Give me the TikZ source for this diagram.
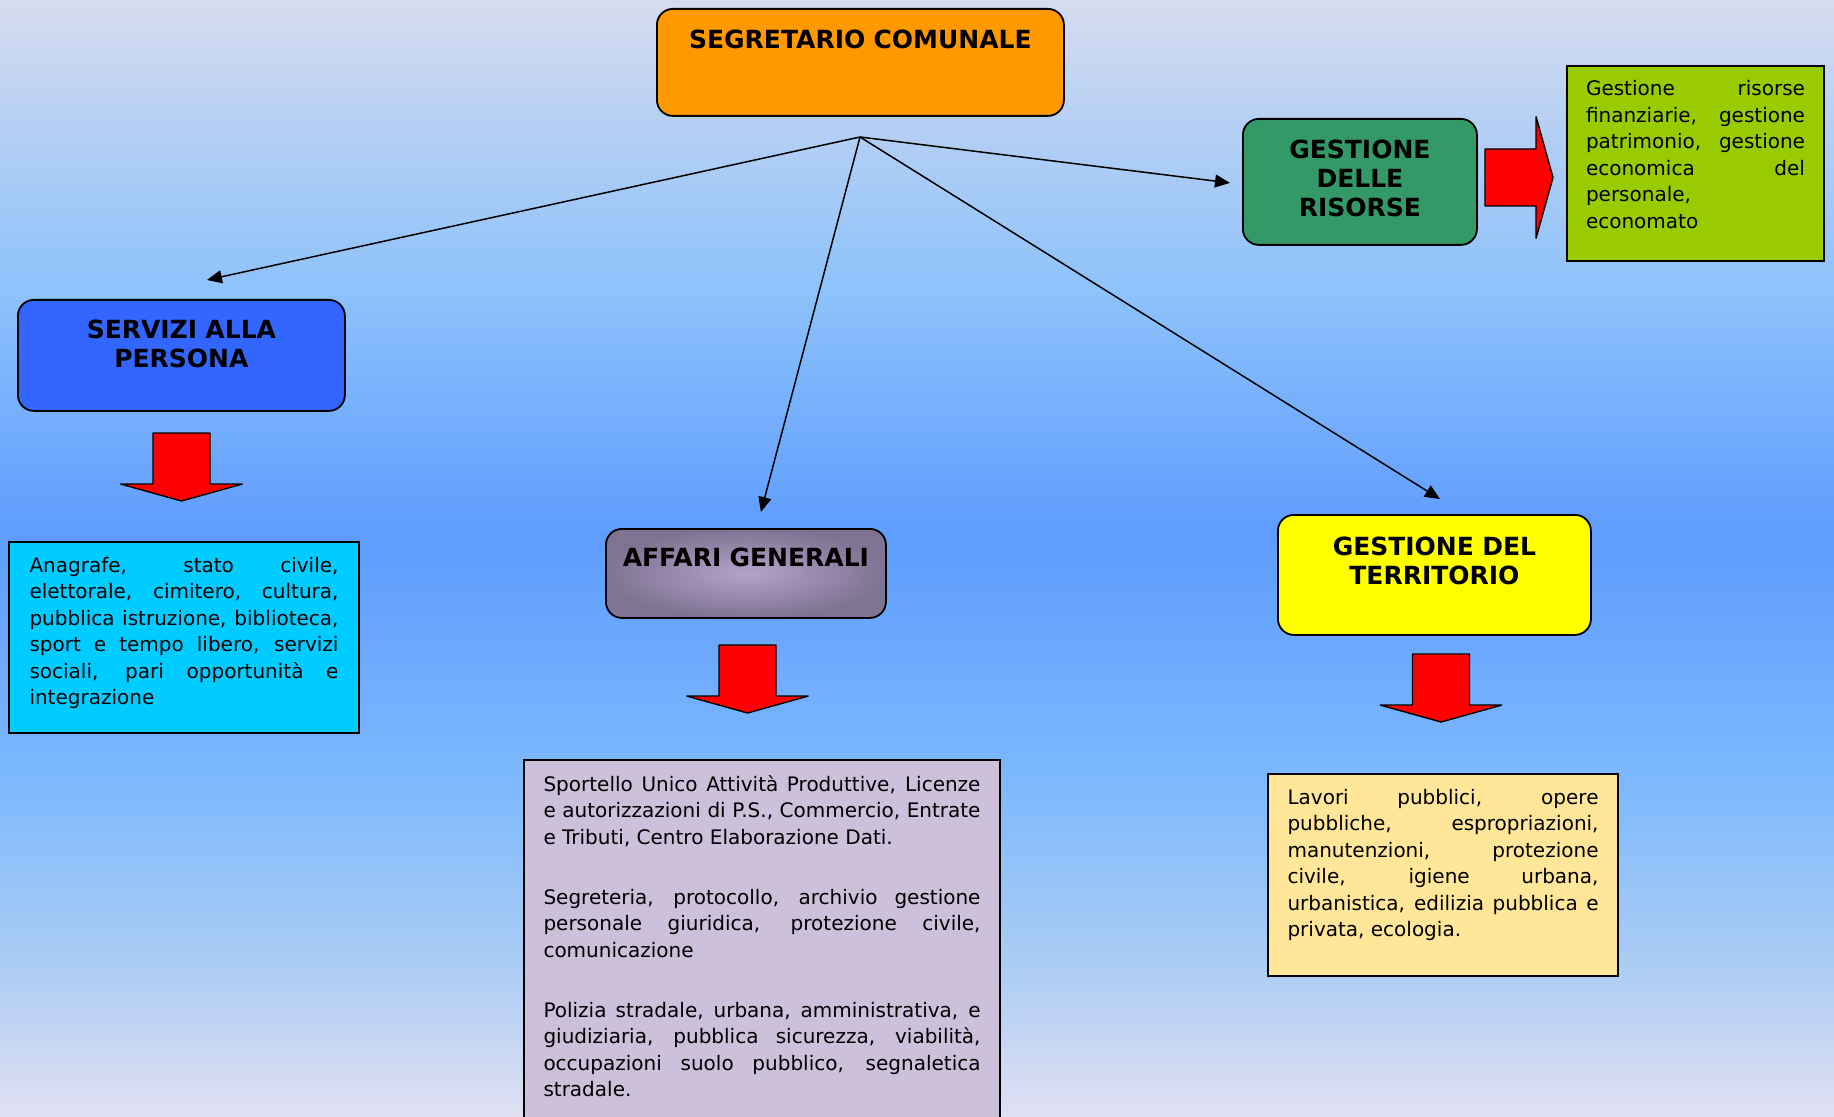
\documentclass[tikz,border=0pt]{standalone}
\usepackage{fontspec}
\setmainfont{DejaVu Sans}
\usetikzlibrary{arrows.meta}

\hyphenpenalty=10000
\exhyphenpenalty=10000

\definecolor{skytop}{HTML}{D6DCEF}
\definecolor{skyhigh}{HTML}{B3CFF4}
\definecolor{skymidup}{HTML}{8DC2FA}
\definecolor{skydeep}{HTML}{5E9CFE}
\definecolor{skymiddown}{HTML}{7DB9FC}
\definecolor{skylow}{HTML}{AACCF4}
\definecolor{skybottom}{HTML}{E0E0F3}
\definecolor{segorange}{HTML}{FF9900}
\definecolor{risgreen}{HTML}{339966}
\definecolor{limegreen}{HTML}{99CC00}
\definecolor{servblue}{HTML}{3366FF}
\definecolor{servcyan}{HTML}{00CCFF}
\definecolor{affdark}{HTML}{7F7393}
\definecolor{afflight}{HTML}{B3A3C9}
\definecolor{afflilac}{HTML}{CCC0DA}
\definecolor{terryellow}{HTML}{FFFF00}
\definecolor{terrsand}{HTML}{FFE699}

\pgfdeclareverticalshading{sky}{100bp}{color(0bp)=(skybottom); color(25bp)=(skybottom);
  color(32bp)=(skylow); color(40bp)=(skymiddown); color(51bp)=(skydeep);
  color(62bp)=(skymidup); color(69bp)=(skyhigh); color(75bp)=(skytop); color(100bp)=(skytop)}

\newcommand{\boxtitlefont}{\fontsize{12.5}{14.5}\selectfont\bfseries}
\newcommand{\boxbodyfont}{\fontsize{10}{13.25}\selectfont}

% red block arrow: base centre (#1,#2), turned by #3
\newcommand{\redblock}[3]{\draw[redarrow,shift={(#1,#2)},rotate=#3]
  (-28.5,0) -- (28.5,0) -- (28.5,51) -- (61,51) -- (0,68) -- (-61,51) -- (-28.5,51) -- cycle;}

\tikzset{
  titlebox/.style={draw=black,line width=0.9pt,rounded corners=8pt,anchor=north west,
    align=center,inner sep=0pt,font=\boxtitlefont},
  textbox/.style={draw=black,line width=1pt,anchor=north west,align=justify,
    inner ysep=0pt,font=\boxbodyfont},
  redarrow/.style={draw=black,line width=0.7pt,line join=bevel,fill=red},
  link/.style={-{Triangle[length=7.5pt,width=6.5pt]},line width=0.75pt}
}

\begin{document}
\begin{tikzpicture}[x=0.5pt,y=-0.5pt]
  \useasboundingbox (0,0) rectangle (1834,1117);
  \shade[shading=sky] (0,0) rectangle (1834,1117);

  % heads of the sectors
  \node[titlebox,fill=segorange,text width=203.5pt,text height=20pt,text depth=33.5pt]
    (segretario) at (656,8) {SEGRETARIO COMUNALE};
  \node[titlebox,fill=servblue,text width=163.5pt,text height=19.5pt,text depth=36pt]
    (servizi) at (17,299) {SERVIZI ALLA\\PERSONA};
  \node[titlebox,fill=risgreen,text width=117pt,text height=20pt,text depth=43pt]
    (risorse) at (1242,118) {GESTIONE\\DELLE\\RISORSE};
  \node[titlebox,inner color=afflight,outer color=affdark,text width=140pt,text height=19pt,text depth=25.5pt]
    (affari) at (605,528) {AFFARI GENERALI};
  \node[titlebox,fill=terryellow,text width=156.5pt,text height=20.5pt,text depth=39.5pt]
    (territorio) at (1277,514) {GESTIONE DEL\\TERRITORIO};

  % tasks
  \node[textbox,fill=servcyan,text width=154.5pt,inner xsep=10.25pt,text height=15pt,text depth=80.5pt]
    (anagrafe) at (8,541) {Anagrafe, stato civile,\linebreak elettorale, cimitero, cultura,\linebreak
    pubblica istruzione, biblioteca,\linebreak sport e tempo libero, servizi\linebreak
    sociali, pari opportunità e\linebreak integrazione};
  \node[textbox,fill=afflilac,text width=218.5pt,inner xsep=9.75pt,text height=15.5pt,text depth=170pt]
    (sportello) at (523,759) {Sportello Unico Attività Produttive, Licenze\linebreak
    e autorizzazioni di P.S., Commercio, Entrate\linebreak e Tributi, Centro Elaborazione Dati.\par
    \vspace{16.75pt}Segreteria, protocollo, archivio gestione\linebreak
    personale giuridica, protezione civile,\linebreak comunicazione\par
    \vspace{16.75pt}Polizia stradale, urbana, amministrativa, e\linebreak
    giudiziaria, pubblica sicurezza, viabilità,\linebreak
    occupazioni suolo pubblico, segnaletica\linebreak stradale.};
  \node[textbox,fill=terrsand,text width=155.5pt,inner xsep=9.75pt,text height=15pt,text depth=86pt]
    (lavori) at (1267,773) {Lavori pubblici, opere\linebreak pubbliche, espropriazioni,\linebreak
    manutenzioni, protezione\linebreak civile, igiene urbana,\linebreak
    urbanistica, edilizia pubblica e\linebreak privata, ecologia.};
  \node[textbox,fill=limegreen,text width=109.5pt,inner xsep=9.5pt,text height=15pt,text depth=82.5pt]
    (finanze) at (1566,65) {Gestione risorse\linebreak finanziarie, gestione\linebreak
    patrimonio, gestione\linebreak economica del\linebreak personale,\linebreak economato};

  % links
  \coordinate (hub) at (860,137);
  \draw[link] (hub) -- ([xshift=12.75pt,yshift=9.5pt]servizi.north);
  \draw[link] (hub) -- ([xshift=7.5pt,yshift=8pt]affari.north);
  \draw[link] (hub) -- ([xshift=-6pt,yshift=-0.5pt]risorse.west);
  \draw[link] (hub) -- ([xshift=2.75pt,yshift=7.5pt]territorio.north);

  \redblock{181.5}{433}{0}
  \redblock{747.5}{645}{0}
  \redblock{1441}{654}{0}
  \redblock{1485}{177.5}{90}
\end{tikzpicture}
\end{document}
